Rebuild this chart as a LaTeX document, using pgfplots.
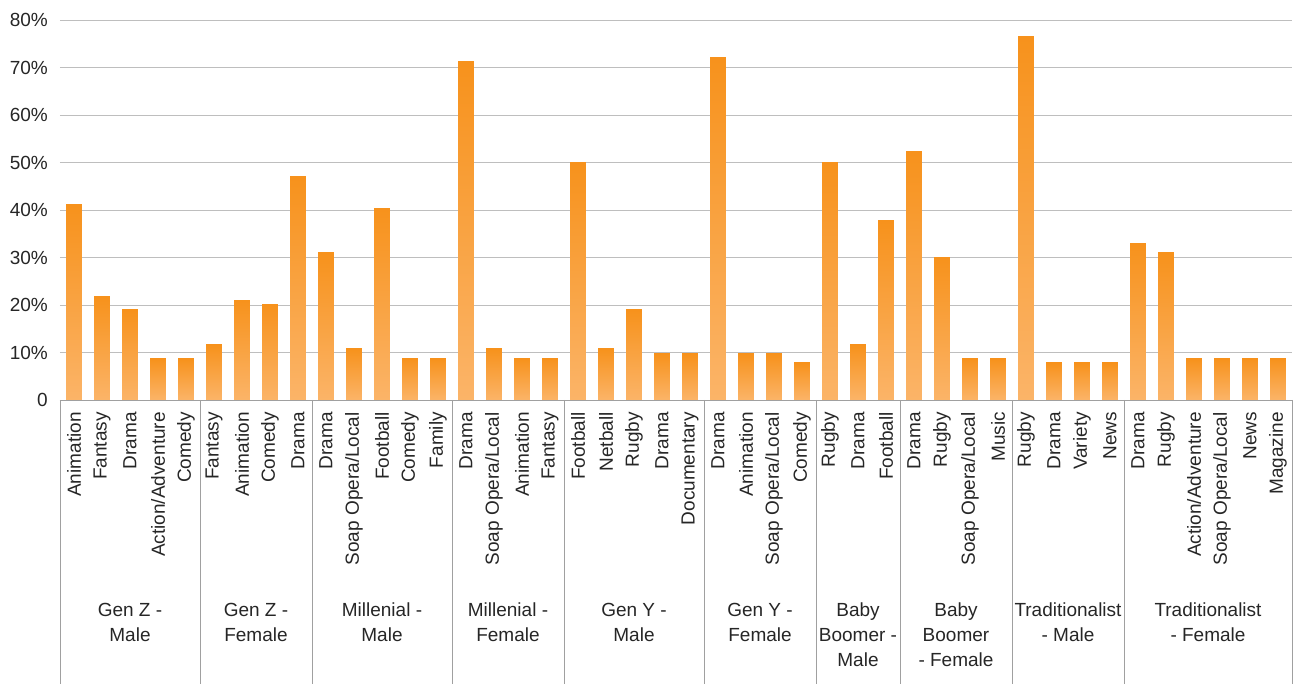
\documentclass[border=0pt]{standalone}
\usepackage{pgfplots}
\pgfplotsset{compat=1.18}
\usepackage{fontspec}
\setmainfont{Liberation Sans}
\definecolor{barTop}{RGB}{247,146,28}
\definecolor{barBot}{RGB}{251,180,104}
\definecolor{gridc}{RGB}{190,190,190}
\definecolor{sepc}{RGB}{160,160,160}
\definecolor{txt}{RGB}{38,38,38}
\tikzset{grp/.style={anchor=north, align=center, text=txt, inner sep=0pt, font=\fontsize{19}{25}\selectfont}}
\pgfplotsset{gbar/.style={ybar, bar width=0.57, bar shift=0pt, draw=none, top color=barTop, bottom color=barBot}}
\begin{document}
\begin{tikzpicture}
\useasboundingbox (-60pt,-284pt) rectangle (1233pt,400pt);
\begin{axis}[
  at={(0,0)}, anchor=south west,
  scale only axis, width=1232pt, height=380pt,
  xmin=-0.5, xmax=43.5, ymin=0, ymax=80,
  clip=false,
  axis line style={draw=none},
  major tick length=0pt,
  ymajorgrids, grid style={gridc, line width=0.9pt},
  ytick={0,10,...,80},
  yticklabels={0,10\%,20\%,30\%,40\%,50\%,60\%,70\%,80\%},
  yticklabel style={font=\fontsize{19}{22}\selectfont, text=txt, inner sep=0pt, xshift=-12pt},
  xtick={0,...,43},
  xticklabels={Animation,Fantasy,Drama,Action/Adventure,Comedy,
    Fantasy,Animation,Comedy,Drama,
    Drama,Soap Opera/Local,Football,Comedy,Family,
    Drama,Soap Opera/Local,Animation,Fantasy,
    Football,Netball,Rugby,Drama,Documentary,
    Drama,Animation,Soap Opera/Local,Comedy,
    Rugby,Drama,Football,
    Drama,Rugby,Soap Opera/Local,Music,
    Rugby,Drama,Variety,News,
    Drama,Rugby,Action/Adventure,Soap Opera/Local,News,Magazine},
  xticklabel style={font=\fontsize{19}{22}\selectfont, text=txt, yshift=-12pt, rotate=90, anchor=east, inner sep=0pt},
]
% Gen Z - Male
\addplot[gbar] coordinates {(0,41.1)};
\addplot[gbar] coordinates {(1,21.7)};
\addplot[gbar] coordinates {(2,19.0)};
\addplot[gbar] coordinates {(3,8.7)};
\addplot[gbar] coordinates {(4,8.7)};
% Gen Z - Female
\addplot[gbar] coordinates {(5,11.6)};
\addplot[gbar] coordinates {(6,20.9)};
\addplot[gbar] coordinates {(7,20.0)};
\addplot[gbar] coordinates {(8,47.0)};
% Millenial - Male
\addplot[gbar] coordinates {(9,31.0)};
\addplot[gbar] coordinates {(10,10.8)};
\addplot[gbar] coordinates {(11,40.3)};
\addplot[gbar] coordinates {(12,8.7)};
\addplot[gbar] coordinates {(13,8.7)};
% Millenial - Female
\addplot[gbar] coordinates {(14,71.3)};
\addplot[gbar] coordinates {(15,10.8)};
\addplot[gbar] coordinates {(16,8.7)};
\addplot[gbar] coordinates {(17,8.7)};
% Gen Y - Male
\addplot[gbar] coordinates {(18,50.0)};
\addplot[gbar] coordinates {(19,10.8)};
\addplot[gbar] coordinates {(20,19.0)};
\addplot[gbar] coordinates {(21,9.7)};
\addplot[gbar] coordinates {(22,9.7)};
% Gen Y - Female
\addplot[gbar] coordinates {(23,72.2)};
\addplot[gbar] coordinates {(24,9.7)};
\addplot[gbar] coordinates {(25,9.7)};
\addplot[gbar] coordinates {(26,7.8)};
% Baby Boomer - Male
\addplot[gbar] coordinates {(27,50.0)};
\addplot[gbar] coordinates {(28,11.6)};
\addplot[gbar] coordinates {(29,37.8)};
% Baby Boomer - Female
\addplot[gbar] coordinates {(30,52.3)};
\addplot[gbar] coordinates {(31,30.0)};
\addplot[gbar] coordinates {(32,8.7)};
\addplot[gbar] coordinates {(33,8.7)};
% Traditionalist - Male
\addplot[gbar] coordinates {(34,76.6)};
\addplot[gbar] coordinates {(35,7.8)};
\addplot[gbar] coordinates {(36,7.8)};
\addplot[gbar] coordinates {(37,7.8)};
% Traditionalist - Female
\addplot[gbar] coordinates {(38,32.9)};
\addplot[gbar] coordinates {(39,31.0)};
\addplot[gbar] coordinates {(40,8.7)};
\addplot[gbar] coordinates {(41,8.7)};
\addplot[gbar] coordinates {(42,8.7)};
\addplot[gbar] coordinates {(43,8.7)};
\draw[sepc, line width=0.9pt] (axis cs:-0.5,0) -- (axis cs:43.5,0);
\pgfplotsinvokeforeach{-0.5,4.5,8.5,13.5,17.5,22.5,26.5,29.5,33.5,37.5,43.5}{
  \draw[sepc, line width=0.9pt] (axis cs:#1,0) -- ([yshift=-290pt]axis cs:#1,0);
}
\node[grp] at ([yshift=-203pt]axis cs:2,0) {Gen Z -\\Male};
\node[grp] at ([yshift=-203pt]axis cs:6.5,0) {Gen Z -\\Female};
\node[grp] at ([yshift=-203pt]axis cs:11,0) {Millenial -\\Male};
\node[grp] at ([yshift=-203pt]axis cs:15.5,0) {Millenial -\\Female};
\node[grp] at ([yshift=-203pt]axis cs:20,0) {Gen Y -\\Male};
\node[grp] at ([yshift=-203pt]axis cs:24.5,0) {Gen Y -\\Female};
\node[grp] at ([yshift=-203pt]axis cs:28,0) {Baby\\Boomer -\\Male};
\node[grp] at ([yshift=-203pt]axis cs:31.5,0) {Baby\\Boomer\\- Female};
\node[grp] at ([yshift=-203pt]axis cs:35.5,0) {Traditionalist\\- Male};
\node[grp] at ([yshift=-203pt]axis cs:40.5,0) {Traditionalist\\- Female};
\end{axis}
\end{tikzpicture}
\end{document}
